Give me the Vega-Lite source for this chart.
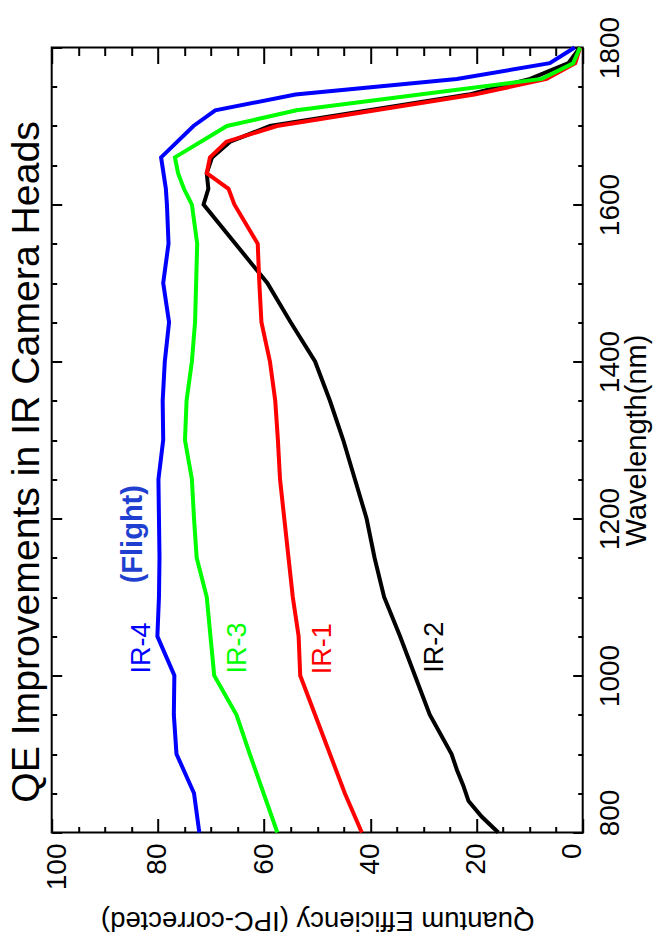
{
  "$schema": "https://vega.github.io/schema/vega-lite/v6.json",
  "width": 531,
  "height": 785,
  "autosize": {"type": "none"},
  "padding": {"left": 51.7, "top": 47.5, "right": 70.3, "bottom": 118.5},
  "background": "white",
  "config": {
    "font": "Liberation Sans",
    "view": {"stroke": "black", "strokeWidth": 2},
    "axis": {"grid": false, "labelColor": "black", "titleColor": "black", "tickColor": "black", "tickWidth": 2, "labelFont": "Liberation Sans", "titleFont": "Liberation Sans", "titleFontWeight": "normal"}
  },
  "title": {
    "text": "QE Improvements in IR Camera Heads",
    "orient": "left",
    "anchor": "middle",
    "frame": "group",
    "font": "Liberation Sans",
    "fontSize": 39.2,
    "fontWeight": "normal",
    "color": "black",
    "baseline": "alphabetic",
    "offset": -34,
    "dx": -22
  },
  "datasets": {
    "curves": [
      {"series": "IR-2", "wl": 800, "qe": 15.9},
      {"series": "IR-2", "wl": 820, "qe": 19.0},
      {"series": "IR-2", "wl": 840, "qe": 21.5},
      {"series": "IR-2", "wl": 860, "qe": 22.5},
      {"series": "IR-2", "wl": 880, "qe": 23.7},
      {"series": "IR-2", "wl": 900, "qe": 24.7},
      {"series": "IR-2", "wl": 950, "qe": 28.8},
      {"series": "IR-2", "wl": 1000, "qe": 31.6},
      {"series": "IR-2", "wl": 1050, "qe": 34.4},
      {"series": "IR-2", "wl": 1100, "qe": 37.4},
      {"series": "IR-2", "wl": 1150, "qe": 39.2},
      {"series": "IR-2", "wl": 1200, "qe": 40.7},
      {"series": "IR-2", "wl": 1250, "qe": 42.9},
      {"series": "IR-2", "wl": 1300, "qe": 45.1},
      {"series": "IR-2", "wl": 1350, "qe": 47.6},
      {"series": "IR-2", "wl": 1400, "qe": 50.4},
      {"series": "IR-2", "wl": 1450, "qe": 55.0},
      {"series": "IR-2", "wl": 1500, "qe": 59.4},
      {"series": "IR-2", "wl": 1550, "qe": 65.4},
      {"series": "IR-2", "wl": 1600, "qe": 71.4},
      {"series": "IR-2", "wl": 1620, "qe": 70.5},
      {"series": "IR-2", "wl": 1640, "qe": 70.8},
      {"series": "IR-2", "wl": 1660, "qe": 69.8},
      {"series": "IR-2", "wl": 1680, "qe": 66.4},
      {"series": "IR-2", "wl": 1700, "qe": 58.9},
      {"series": "IR-2", "wl": 1740, "qe": 21.5},
      {"series": "IR-2", "wl": 1760, "qe": 9.9},
      {"series": "IR-2", "wl": 1780, "qe": 2.7},
      {"series": "IR-2", "wl": 1800, "qe": 0.5},
      {"series": "IR-1", "wl": 800, "qe": 41.6},
      {"series": "IR-1", "wl": 850, "qe": 44.8},
      {"series": "IR-1", "wl": 900, "qe": 47.6},
      {"series": "IR-1", "wl": 950, "qe": 50.4},
      {"series": "IR-1", "wl": 1000, "qe": 53.2},
      {"series": "IR-1", "wl": 1050, "qe": 53.5},
      {"series": "IR-1", "wl": 1100, "qe": 54.6},
      {"series": "IR-1", "wl": 1150, "qe": 55.4},
      {"series": "IR-1", "wl": 1200, "qe": 56.2},
      {"series": "IR-1", "wl": 1250, "qe": 57.0},
      {"series": "IR-1", "wl": 1300, "qe": 57.4},
      {"series": "IR-1", "wl": 1350, "qe": 57.9},
      {"series": "IR-1", "wl": 1400, "qe": 58.9},
      {"series": "IR-1", "wl": 1450, "qe": 60.5},
      {"series": "IR-1", "wl": 1500, "qe": 60.9},
      {"series": "IR-1", "wl": 1550, "qe": 61.2},
      {"series": "IR-1", "wl": 1600, "qe": 65.6},
      {"series": "IR-1", "wl": 1620, "qe": 66.7},
      {"series": "IR-1", "wl": 1640, "qe": 70.8},
      {"series": "IR-1", "wl": 1660, "qe": 70.2},
      {"series": "IR-1", "wl": 1680, "qe": 67.1},
      {"series": "IR-1", "wl": 1700, "qe": 57.6},
      {"series": "IR-1", "wl": 1740, "qe": 20.4},
      {"series": "IR-1", "wl": 1760, "qe": 6.8},
      {"series": "IR-1", "wl": 1780, "qe": 1.4},
      {"series": "IR-1", "wl": 1800, "qe": 0.5},
      {"series": "IR-3", "wl": 800, "qe": 57.5},
      {"series": "IR-3", "wl": 850, "qe": 60.1},
      {"series": "IR-3", "wl": 900, "qe": 62.7},
      {"series": "IR-3", "wl": 950, "qe": 65.2},
      {"series": "IR-3", "wl": 1000, "qe": 69.4},
      {"series": "IR-3", "wl": 1050, "qe": 70.1},
      {"series": "IR-3", "wl": 1100, "qe": 70.8},
      {"series": "IR-3", "wl": 1150, "qe": 72.7},
      {"series": "IR-3", "wl": 1200, "qe": 73.2},
      {"series": "IR-3", "wl": 1250, "qe": 73.6},
      {"series": "IR-3", "wl": 1300, "qe": 74.9},
      {"series": "IR-3", "wl": 1350, "qe": 74.6},
      {"series": "IR-3", "wl": 1400, "qe": 73.6},
      {"series": "IR-3", "wl": 1450, "qe": 73.0},
      {"series": "IR-3", "wl": 1500, "qe": 72.8},
      {"series": "IR-3", "wl": 1550, "qe": 72.6},
      {"series": "IR-3", "wl": 1600, "qe": 73.6},
      {"series": "IR-3", "wl": 1620, "qe": 75.1},
      {"series": "IR-3", "wl": 1640, "qe": 76.2},
      {"series": "IR-3", "wl": 1660, "qe": 76.8},
      {"series": "IR-3", "wl": 1700, "qe": 67.0},
      {"series": "IR-3", "wl": 1720, "qe": 53.9},
      {"series": "IR-3", "wl": 1760, "qe": 7.7},
      {"series": "IR-3", "wl": 1780, "qe": 1.8},
      {"series": "IR-3", "wl": 1800, "qe": 0.5},
      {"series": "IR-4", "wl": 800, "qe": 72.2},
      {"series": "IR-4", "wl": 850, "qe": 73.2},
      {"series": "IR-4", "wl": 900, "qe": 76.5},
      {"series": "IR-4", "wl": 950, "qe": 77.0},
      {"series": "IR-4", "wl": 1000, "qe": 76.9},
      {"series": "IR-4", "wl": 1050, "qe": 80.1},
      {"series": "IR-4", "wl": 1100, "qe": 79.8},
      {"series": "IR-4", "wl": 1150, "qe": 79.7},
      {"series": "IR-4", "wl": 1200, "qe": 79.8},
      {"series": "IR-4", "wl": 1250, "qe": 79.9},
      {"series": "IR-4", "wl": 1300, "qe": 79.0},
      {"series": "IR-4", "wl": 1350, "qe": 79.1},
      {"series": "IR-4", "wl": 1400, "qe": 78.7},
      {"series": "IR-4", "wl": 1450, "qe": 77.9},
      {"series": "IR-4", "wl": 1500, "qe": 79.0},
      {"series": "IR-4", "wl": 1550, "qe": 78.0},
      {"series": "IR-4", "wl": 1600, "qe": 78.3},
      {"series": "IR-4", "wl": 1620, "qe": 78.5},
      {"series": "IR-4", "wl": 1660, "qe": 79.4},
      {"series": "IR-4", "wl": 1700, "qe": 73.3},
      {"series": "IR-4", "wl": 1720, "qe": 69.2},
      {"series": "IR-4", "wl": 1740, "qe": 54.1},
      {"series": "IR-4", "wl": 1760, "qe": 23.7},
      {"series": "IR-4", "wl": 1780, "qe": 6.2},
      {"series": "IR-4", "wl": 1800, "qe": 1.5}
    ],
    "labels": [
      {"label": "IR-4", "series": "IR-4", "qe": 83.0, "wl": 1035},
      {"label": "IR-3", "series": "IR-3", "qe": 65.0, "wl": 1035},
      {"label": "IR-1", "series": "IR-1", "qe": 48.9, "wl": 1034},
      {"label": "IR-2", "series": "IR-2", "qe": 27.8, "wl": 1036}
    ],
    "flight": [
      {"label": "(Flight)", "qe": 84.7, "wl": 1180}
    ]
  },
  "layer": [
    {
      "data": {"name": "curves"},
      "mark": {"type": "line", "strokeWidth": 4, "strokeJoin": "miter"},
      "encoding": {
        "x": {
          "field": "qe", "type": "quantitative",
          "scale": {"domain": [0, 100], "reverse": true, "nice": false, "zero": false},
          "axis": {
            "orient": "bottom", "values": [0, 20, 40, 60, 80, 100], "format": "d",
            "ticks": false, "domain": false, "grid": false,
            "labelAngle": 270, "labelAlign": "right", "labelBaseline": "middle",
            "labelPadding": 10.5, "labelFontSize": 28, "labelFlush": false, "labelOverlap": false, "labelBound": false,
            "labelOffset": {"condition": [{"test": "datum.value === 0", "value": -10}, {"test": "datum.value === 100", "value": 6}], "value": 0},
            "title": "Quantum Efficiency (IPC-corrected)",
            "titleFontSize": 27.5, "titleAngle": 180, "titleBaseline": "alphabetic", "titleAlign": "center", "titleY": 78.5
          }
        },
        "y": {
          "field": "wl", "type": "quantitative",
          "scale": {"domain": [800, 1800], "nice": false, "zero": false},
          "axis": {
            "orient": "right", "values": [800, 1000, 1200, 1400, 1600, 1800], "format": "d",
            "ticks": false, "domain": false, "grid": false,
            "labelAngle": 270, "labelAlign": "center", "labelBaseline": "top",
            "labelPadding": 13.3, "labelFontSize": 28, "labelFlush": false, "labelOverlap": false, "labelBound": false,
            "labelOffset": {"condition": {"test": "datum.value === 800", "value": -20}, "value": 0},
            "title": "Wavelength(nm)",
            "titleFontSize": 29, "titleAngle": 270, "titleBaseline": "top", "titleAlign": "center", "titleX": 39.5
          }
        },
        "color": {
          "field": "series", "type": "nominal",
          "scale": {"domain": ["IR-1", "IR-2", "IR-3", "IR-4"], "range": ["#ff0000", "#000000", "#00ff00", "#0000ff"]},
          "legend": null
        },
        "order": {"field": "wl", "type": "quantitative"}
      }
    },
    {
      "data": {"name": "labels"},
      "mark": {"type": "point", "opacity": 0},
      "encoding": {
        "x": {
          "field": "qe", "type": "quantitative",
          "scale": {"domain": [0, 100], "reverse": true, "nice": false, "zero": false},
          "axis": {"orient": "bottom", "values": [0, 20, 40, 60, 80, 100], "offset": -14, "tickSize": 14, "labels": false, "domain": false, "grid": false, "title": null}
        },
        "y": {
          "field": "wl", "type": "quantitative",
          "scale": {"domain": [800, 1800], "nice": false, "zero": false},
          "axis": {"orient": "right", "values": [800, 1000, 1200, 1400, 1600, 1800], "offset": -10, "tickSize": 10, "labels": false, "domain": false, "grid": false, "title": null}
        }
      }
    },
    {
      "data": {"name": "labels"},
      "mark": {"type": "point", "opacity": 0},
      "encoding": {
        "x": {
          "field": "qe", "type": "quantitative",
          "scale": {"domain": [0, 100], "reverse": true, "nice": false, "zero": false},
          "axis": {"orient": "bottom", "values": [5, 10, 15, 25, 30, 35, 45, 50, 55, 65, 70, 75, 85, 90, 95], "offset": -6, "tickSize": 6, "labels": false, "domain": false, "grid": false, "title": null}
        },
        "y": {
          "field": "wl", "type": "quantitative",
          "scale": {"domain": [800, 1800], "nice": false, "zero": false},
          "axis": {"orient": "right", "values": [850, 900, 950, 1050, 1100, 1150, 1250, 1300, 1350, 1450, 1500, 1550, 1650, 1700, 1750], "offset": -5, "tickSize": 5, "labels": false, "domain": false, "grid": false, "title": null}
        }
      }
    },
    {
      "data": {"name": "labels"},
      "mark": {"type": "point", "opacity": 0},
      "encoding": {
        "x": {
          "field": "qe", "type": "quantitative",
          "scale": {"domain": [0, 100], "reverse": true, "nice": false, "zero": false},
          "axis": {"orient": "top", "values": [0, 20, 40, 60, 80, 100], "offset": -16, "tickSize": 16, "labels": false, "domain": false, "grid": false, "title": null}
        },
        "y": {
          "field": "wl", "type": "quantitative",
          "scale": {"domain": [800, 1800], "nice": false, "zero": false},
          "axis": {"orient": "left", "values": [800, 1000, 1200, 1400, 1600, 1800], "offset": -10, "tickSize": 10, "labels": false, "domain": false, "grid": false, "title": null}
        }
      }
    },
    {
      "data": {"name": "labels"},
      "mark": {"type": "point", "opacity": 0},
      "encoding": {
        "x": {
          "field": "qe", "type": "quantitative",
          "scale": {"domain": [0, 100], "reverse": true, "nice": false, "zero": false},
          "axis": {"orient": "top", "values": [5, 10, 15, 25, 30, 35, 45, 50, 55, 65, 70, 75, 85, 90, 95], "offset": -8, "tickSize": 8, "labels": false, "domain": false, "grid": false, "title": null}
        },
        "y": {
          "field": "wl", "type": "quantitative",
          "scale": {"domain": [800, 1800], "nice": false, "zero": false},
          "axis": {"orient": "left", "values": [850, 900, 950, 1050, 1100, 1150, 1250, 1300, 1350, 1450, 1500, 1550, 1650, 1700, 1750], "offset": -5, "tickSize": 5, "labels": false, "domain": false, "grid": false, "title": null}
        }
      }
    },
    {
      "data": {"name": "labels"},
      "mark": {"type": "text", "angle": 270, "align": "center", "baseline": "middle", "fontSize": 27, "font": "Liberation Sans"},
      "encoding": {
        "x": {"field": "qe", "type": "quantitative", "scale": {"domain": [0, 100], "reverse": true, "nice": false, "zero": false}, "axis": null},
        "y": {"field": "wl", "type": "quantitative", "scale": {"domain": [800, 1800], "nice": false, "zero": false}, "axis": null},
        "text": {"field": "label"},
        "color": {"field": "series", "type": "nominal", "legend": null}
      }
    },
    {
      "data": {"name": "flight"},
      "mark": {"type": "text", "angle": 270, "align": "center", "baseline": "middle", "fontSize": 29, "fontWeight": "bold", "font": "Liberation Sans", "color": "#1f3fd0"},
      "encoding": {
        "x": {"field": "qe", "type": "quantitative", "scale": {"domain": [0, 100], "reverse": true, "nice": false, "zero": false}, "axis": null},
        "y": {"field": "wl", "type": "quantitative", "scale": {"domain": [800, 1800], "nice": false, "zero": false}, "axis": null},
        "text": {"field": "label"}
      }
    }
  ],
  "resolve": {"axis": {"x": "independent", "y": "independent"}}
}
